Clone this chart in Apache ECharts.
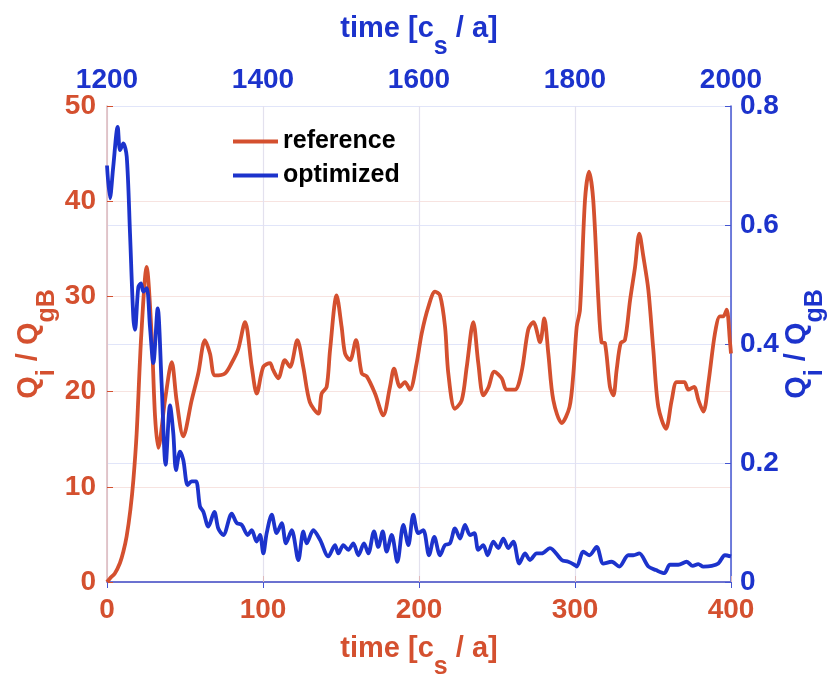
<!DOCTYPE html>
<html>
<head>
<meta charset="utf-8">
<script src="https://cdn.jsdelivr.net/npm/echarts@6/dist/echarts.min.js"></script>
<style>
  html, body { margin: 0; padding: 0; background: #fff; }
  #main { width: 827px; height: 677px; }
</style>
</head>
<body>
<div id="main"></div>
<script>
// reference run: bottom time axis / left flux axis
var refTime = [0, 2, 5, 8.3, 10.5, 12.6, 15, 16.9, 19, 22, 25.4, 28.6, 30.8, 32.9, 37.2, 41.5, 44.6, 48.9,
    54.3, 58.5, 62.8, 66, 69.2, 75.6, 79.9, 84, 88.5, 92.8, 96, 100.2, 104.5, 106.4, 109.8, 114, 117.3,
    122, 125.8, 130, 135.5, 137.6, 140.8, 143, 147.2, 150.4, 152.6, 155.8, 159.6, 163.3, 166.5, 171.8,
    177.1, 181.4, 184, 187.8, 191, 194.2, 198.5, 201.7, 206, 210.3, 213.5, 216.7, 218.8, 223, 227.4,
    230.6, 234.8, 238, 241.2, 244.4, 248.3, 253, 256.2, 261.5, 265.8, 270, 273.3, 277.6, 280.3, 282.9,
    286.1, 291.5, 296.5, 299, 301.1, 303.2, 306.4, 309, 311.7, 315, 317, 319.2, 322.4, 324.6, 326.7,
    329.3, 332, 335.3, 338.5, 341.2, 343.8, 347, 350.2, 353.4, 358.3, 362, 365.2, 370.1, 372.6, 376.3,
    379.1, 382.3, 385.5, 389.7, 392.9, 395, 397.2, 399.4, 400];
var refFlux = [0, 0.4, 0.9, 2, 3.2, 4.8, 7.6, 10.7, 15.6, 26, 33.1, 26, 17.4, 14.1, 19.1, 23.1, 19.1, 15.3,
    19.1, 21.9, 25.4, 24, 21.7, 21.9, 23, 24.4, 27.3, 22.6, 19.8, 22.6, 23, 22.3, 21.4, 23.3, 22.6,
    25.4, 22.6, 18.9, 17.7, 19.8, 20.5, 24.4, 30.1, 26.8, 24, 23.3, 25.4, 21.9, 21.6, 19.8,
    17.5, 20.5, 22.4, 20.5, 21, 20.2, 23, 26.1, 28.9, 30.5, 30.1, 26.8, 21.9, 18.2, 19.1,
    22.6, 27.3, 23, 19.6, 20.4, 22.1, 21.4, 20.2, 20.2, 22.1, 26.5, 27.3, 25.2, 27.7, 24,
    19.1, 16.7, 18.4, 22, 26.8, 28.6, 40.1, 43.1, 40.1, 29.6, 25.2, 25.1, 20.5, 19.6, 22.3,
    25.1, 25.4, 29.6, 33.1, 36.6, 34.2, 30.7, 24.4, 18.4, 16.1, 19.1, 21, 21, 20.2, 20.5,
    19.1, 17.9, 20.9, 26.1, 27.9, 27.9, 28.6, 25.1, 24];

// optimized run: top time axis / right flux axis
var optTime = [1200, 1203.8, 1208, 1213.7, 1216.7, 1220.9, 1225.3, 1229.5, 1233.7, 1235.9, 1240.2, 1243.6,
    1246.5, 1250.9, 1255.1, 1259.4, 1265, 1270, 1275.2, 1280.8, 1285, 1288.5, 1293.6, 1297.8, 1303.4,
    1308.5, 1314.1, 1319.2, 1323.5, 1329.9, 1337.6, 1342.7, 1349.1, 1359.9, 1366.3, 1372.7, 1380.4,
    1385.5, 1391.9, 1396.2, 1400.4, 1404.7, 1411.2, 1417.6, 1424, 1429.5, 1436.8, 1445.3, 1451.7, 1456,
    1464.5, 1473.1, 1483.7, 1492.3, 1496.6, 1503, 1509.4, 1515.8, 1522.2, 1529.5, 1535, 1542.3, 1547.8,
    1553.5, 1558.5, 1565, 1572.2, 1579.9, 1586.3, 1592.7, 1599, 1605.5, 1612.8, 1619.6, 1626.9, 1633.3,
    1639.7, 1646.2, 1652.6, 1659, 1665.4, 1670.9, 1676, 1682.4, 1688, 1695.3, 1701.7, 1708.1, 1714.5,
    1720.9, 1728.6, 1735.9, 1742.3, 1750.9, 1757.3, 1767.9, 1783, 1791.4, 1799.1, 1802.2, 1810.7,
    1818.3, 1827.8, 1836.3, 1847, 1856.8, 1868.3, 1874.7, 1882.4, 1894, 1903.8, 1914.5, 1921.8, 1932.4,
    1943.2, 1950.9, 1958.1, 1964.5, 1975.3, 1983.7, 1992.3, 2000];
var optFlux = [0.70, 0.645, 0.698, 0.765, 0.726, 0.737, 0.715, 0.586, 0.446, 0.424, 0.496, 0.502,
    0.488, 0.494, 0.429, 0.368, 0.46, 0.334, 0.197, 0.297, 0.25, 0.188, 0.219, 0.205, 0.163,
    0.169, 0.169, 0.127, 0.118, 0.093, 0.118, 0.09, 0.079, 0.115, 0.099, 0.096, 0.079,
    0.087, 0.068, 0.079, 0.048, 0.082, 0.113, 0.082, 0.099, 0.065, 0.087, 0.037, 0.085, 0.065,
    0.087, 0.071, 0.043, 0.062, 0.048, 0.062, 0.054, 0.065, 0.045, 0.065, 0.048, 0.085, 0.059,
    0.085, 0.051, 0.079, 0.034, 0.096, 0.062, 0.113, 0.082, 0.087, 0.045, 0.076, 0.045, 0.062,
    0.065, 0.09, 0.073, 0.096, 0.079, 0.082, 0.054, 0.062, 0.045, 0.068, 0.057, 0.073, 0.057,
    0.068, 0.031, 0.048, 0.037, 0.048, 0.048, 0.057, 0.037, 0.034, 0.029, 0.026, 0.051,
    0.045, 0.059, 0.031, 0.034, 0.026, 0.045, 0.045, 0.048, 0.026, 0.02, 0.015, 0.029, 0.029,
    0.034, 0.027, 0.03, 0.026, 0.027, 0.031, 0.045, 0.043];

var seriesNames = ['reference', 'optimized'];

var redColor = '#D4502F';
var blueColor = '#1C33CC';
var fontName = '"Liberation Sans", Arial, sans-serif';

function pairs(xs, ys) {
    return xs.map(function (x, i) { return [x, ys[i]]; });
}

function nameRich(color) {
    return {
        t: { fontSize: 29, fontWeight: 'bold', color: color, fontFamily: fontName, verticalAlign: 'top' },
        s: { fontSize: 25, fontWeight: 'bold', color: color, fontFamily: fontName, verticalAlign: 'top', padding: [21, 0, 0, 0] }
    };
}

var myChart = echarts.init(document.getElementById('main'));
var option = {
    animation: false,
    backgroundColor: '#fff',
    grid: { left: 107, right: 96, top: 106, bottom: 95, outerBoundsMode: 'none', containLabel: false },
    legend: {
        data: seriesNames,
        orient: 'vertical',
        left: 228,
        top: 124,
        icon: 'rect',
        itemWidth: 45,
        itemHeight: 4,
        itemGap: 9,
        textStyle: { fontSize: 25, fontWeight: 'bold', color: '#000', fontFamily: fontName }
    },
    xAxis: [{
        type: 'value',
        position: 'bottom',
        min: 0, max: 400, interval: 100,
        name: '{t|time [c}{s|s}{t| / a]}',
        nameLocation: 'middle',
        nameGap: 52,
        nameMoveOverlap: false,
        nameTextStyle: { rich: nameRich(redColor) },
        axisLine: { show: true, lineStyle: { color: '#DDB9BC', width: 1.5 } },
        axisTick: { show: true, inside: true, length: 6, lineStyle: { color: '#DDB9BC' } },
        axisLabel: { color: redColor, fontSize: 28, fontWeight: 'bold', fontFamily: fontName, margin: 14 },
        splitLine: { show: true, lineStyle: { color: '#E3E1EE', width: 1.2 } }
    }, {
        type: 'value',
        position: 'top',
        min: 1200, max: 2000, interval: 200,
        name: '{t|time [c}{s|s}{t| / a]}',
        nameLocation: 'middle',
        nameGap: 46,
        nameMoveOverlap: false,
        nameTextStyle: { rich: nameRich(blueColor) },
        axisLine: { show: true, lineStyle: { color: '#4456D2', width: 1.5 } },
        axisTick: { show: true, inside: true, length: 6, lineStyle: { color: '#4456D2' } },
        axisLabel: {
            color: blueColor, fontSize: 28, fontWeight: 'bold', fontFamily: fontName, margin: 12,
            formatter: function (v) { return String(v); }
        },
        splitLine: { show: false }
    }],
    yAxis: [{
        type: 'value',
        position: 'left',
        min: 0, max: 50, interval: 10,
        name: '{t|Q}{s|i}{t| / Q}{s|gB}',
        nameLocation: 'middle',
        nameRotate: 90,
        nameGap: 47,
        nameMoveOverlap: false,
        nameTextStyle: { rich: nameRich(redColor) },
        axisLine: { show: true, lineStyle: { color: '#DDB9BC', width: 1.5 } },
        axisTick: { show: true, inside: true, length: 6, lineStyle: { color: redColor } },
        axisLabel: { color: redColor, fontSize: 28, fontWeight: 'bold', fontFamily: fontName, margin: 11 },
        splitLine: { show: true, lineStyle: { color: '#F7E3E0', width: 1.2 } }
    }, {
        type: 'value',
        position: 'right',
        min: 0, max: 0.8, interval: 0.2,
        name: '{t|Q}{s|i}{t| / Q}{s|gB}',
        nameLocation: 'middle',
        nameRotate: 90,
        nameGap: 51,
        nameMoveOverlap: false,
        nameTextStyle: { rich: nameRich(blueColor) },
        axisLine: { show: true, lineStyle: { color: '#4456D2', width: 1.5 } },
        axisTick: { show: true, inside: true, length: 6, lineStyle: { color: '#4456D2' } },
        axisLabel: { color: blueColor, fontSize: 28, fontWeight: 'bold', fontFamily: fontName, margin: 9 },
        splitLine: { show: true, lineStyle: { color: '#E1E5F9', width: 1.2 } }
    }],
    series: [{
        name: seriesNames[0],
        type: 'line',
        xAxisIndex: 0,
        yAxisIndex: 0,
        data: pairs(refTime, refFlux),
        smooth: 0.3,
        showSymbol: false,
        color: redColor,
        lineStyle: { width: 3.8, color: redColor }
    }, {
        name: seriesNames[1],
        type: 'line',
        xAxisIndex: 1,
        yAxisIndex: 1,
        data: pairs(optTime, optFlux),
        smooth: 0.3,
        showSymbol: false,
        color: blueColor,
        lineStyle: { width: 3.8, color: blueColor }
    }]
};
myChart.setOption(option);
</script>
</body>
</html>
